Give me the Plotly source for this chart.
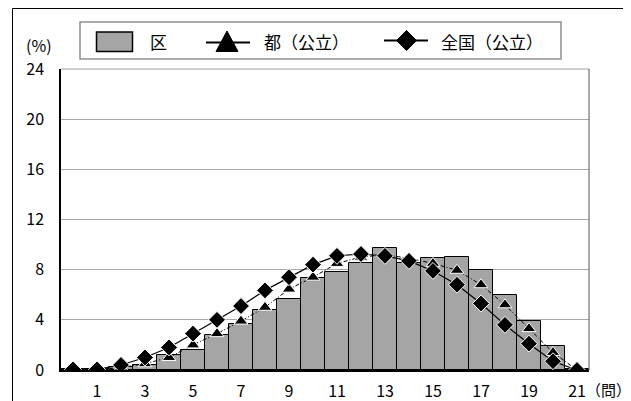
import plotly.graph_objects as go

# ---- data ----
categories = list(range(0, 22))
ku_values = [0.1, 0.05, 0.2, 0.4, 1.2, 1.6, 2.8, 3.7, 4.8, 5.7, 7.3, 7.85, 8.5, 9.7,
             8.5, 8.9, 9.0, 7.95, 6.0, 3.9, 1.9, 0.1]
to_values = [0.0, 0.0, 0.2, 0.5, 1.0, 2.0, 2.9, 3.9, 5.0, 6.45, 7.4, 8.5, 9.0, 9.2,
             8.9, 8.5, 7.95, 6.8, 5.2, 3.3, 1.4, 0.0]
zenkoku_values = [0.05, 0.05, 0.4, 1.0, 1.8, 2.9, 4.0, 5.1, 6.35, 7.4, 8.4, 9.1, 9.25, 9.1,
                  8.7, 7.9, 6.8, 5.3, 3.6, 2.1, 0.7, 0.0]
x_tick_vals = [1, 3, 5, 7, 9, 11, 13, 15, 17, 19, 21]
y_tick_vals = [0, 4, 8, 12, 16, 20, 24]
series_names = ["区", "都（公立）", "全国（公立）"]

FONT = "Noto Sans CJK JP"
OFF = 8  # page body margin offset
W, H = 631 - OFF, 401 - OFF
L, R, T, B = 61 - OFF, 589 - OFF, 69 - OFF, 370 - OFF


def px(x):
    return (x - OFF - L) / (R - L)


def py(y):
    return (B - (y - OFF)) / (B - T)


fig = go.Figure()
fig.add_trace(go.Bar(
    x=categories, y=ku_values, width=1, name=series_names[0],
    marker=dict(color="#a5a5a5", line=dict(color="black", width=1)),
))
fig.add_trace(go.Scatter(
    x=categories, y=to_values, mode="lines+markers", name=series_names[1],
    line=dict(color="black", width=1, dash="4px,2px,1px,2px"),
    marker=dict(symbol="triangle-up", size=12, color="black",
                line=dict(color="white", width=1)),
))
fig.add_trace(go.Scatter(
    x=categories, y=zenkoku_values, mode="lines+markers", name=series_names[2],
    line=dict(color="black", width=1.2),
    marker=dict(symbol="diamond", size=13, color="black",
                line=dict(color="white", width=1)),
))

shapes = []
# outer frame (left, top, right)
shapes.append(dict(type="path", xref="paper", yref="paper",
                   path=f"M {px(12.5)} {py(410)} L {px(12.5)} {py(8.5)} L {px(630)} {py(8.5)} L {px(630)} {py(410)}",
                   line=dict(color="black", width=1)))
# plot area top and right borders
shapes.append(dict(type="line", xref="paper", yref="paper", x0=0, x1=1, y0=1, y1=1,
                   line=dict(color="#a0a0a0", width=1)))
shapes.append(dict(type="line", xref="paper", yref="paper", x0=1, x1=1, y0=0, y1=1,
                   line=dict(color="#555555", width=1)))
# legend box
shapes.append(dict(type="rect", xref="paper", yref="paper",
                   x0=px(80), x1=px(561), y0=py(59), y1=py(22),
                   line=dict(color="#909090", width=1.5), fillcolor="white"))
# legend: bar swatch
shapes.append(dict(type="rect", xref="paper", yref="paper",
                   x0=px(96.5), x1=px(132.5), y0=py(51.5), y1=py(32),
                   line=dict(color="black", width=1.5), fillcolor="#a5a5a5"))
# legend: triangle line
shapes.append(dict(type="line", xref="paper", yref="paper",
                   x0=px(206), x1=px(250), y0=py(42.5), y1=py(42.5),
                   line=dict(color="black", width=2)))
shapes.append(dict(type="path", xref="paper", yref="paper",
                   path=f"M {px(216)} {py(51.5)} L {px(227)} {py(31)} L {px(238)} {py(51.5)} Z",
                   fillcolor="black", line=dict(color="black", width=1)))
# legend: diamond line
shapes.append(dict(type="line", xref="paper", yref="paper",
                   x0=px(384), x1=px(428), y0=py(40.5), y1=py(40.5),
                   line=dict(color="black", width=2)))
shapes.append(dict(type="path", xref="paper", yref="paper",
                   path=f"M {px(396.5)} {py(40.5)} L {px(406.5)} {py(30.5)} L {px(416.5)} {py(40.5)} L {px(406.5)} {py(50.5)} Z",
                   fillcolor="black", line=dict(color="black", width=1)))

annotations = [
    dict(text=series_names[0], x=px(148), y=py(41), xref="paper", yref="paper",
         xanchor="left", yanchor="middle", showarrow=False,
         font=dict(family=FONT, size=17, color="black")),
    dict(text=series_names[1], x=px(262), y=py(41), xref="paper", yref="paper",
         xanchor="left", yanchor="middle", showarrow=False,
         font=dict(family=FONT, size=17, color="black")),
    dict(text=series_names[2], x=px(439), y=py(41), xref="paper", yref="paper",
         xanchor="left", yanchor="middle", showarrow=False,
         font=dict(family=FONT, size=17, color="black")),
    dict(text="(%)", x=px(39), y=py(45), xref="paper", yref="paper",
         xanchor="center", yanchor="middle", showarrow=False,
         font=dict(family=FONT, size=16, color="black")),
    dict(text="（問）", x=px(608), y=py(389.5), xref="paper", yref="paper",
         xanchor="center", yanchor="middle", showarrow=False,
         font=dict(family=FONT, size=15, color="black")),
]

fig.update_layout(
    width=W, height=H,
    margin=dict(l=L, r=W - R, t=T, b=H - B, pad=0, autoexpand=False),
    paper_bgcolor="white", plot_bgcolor="white",
    showlegend=False,
    bargap=0,
    shapes=shapes,
    annotations=annotations,
    font=dict(family=FONT, size=16, color="black"),
)
fig.update_xaxes(
    range=[-0.5, 21.5], tickmode="array", tickvals=x_tick_vals,
    ticktext=[str(v) for v in x_tick_vals], automargin=False,
    showgrid=False, zeroline=False, showline=True, linecolor="black", linewidth=1.5,
    ticks="", ticklabelstandoff=6, tickfont=dict(family=FONT, size=16, color="black"),
)
fig.update_yaxes(
    range=[0, 24], tickmode="array", tickvals=y_tick_vals,
    ticktext=[str(v) for v in y_tick_vals], automargin=False,
    showgrid=True, gridcolor="#a8a8a8", gridwidth=1, zeroline=False,
    showline=True, linecolor="black", linewidth=1.5,
    ticks="", ticklabelstandoff=12, tickfont=dict(family=FONT, size=16, color="black"),
)

fig.write_html("out.html")
